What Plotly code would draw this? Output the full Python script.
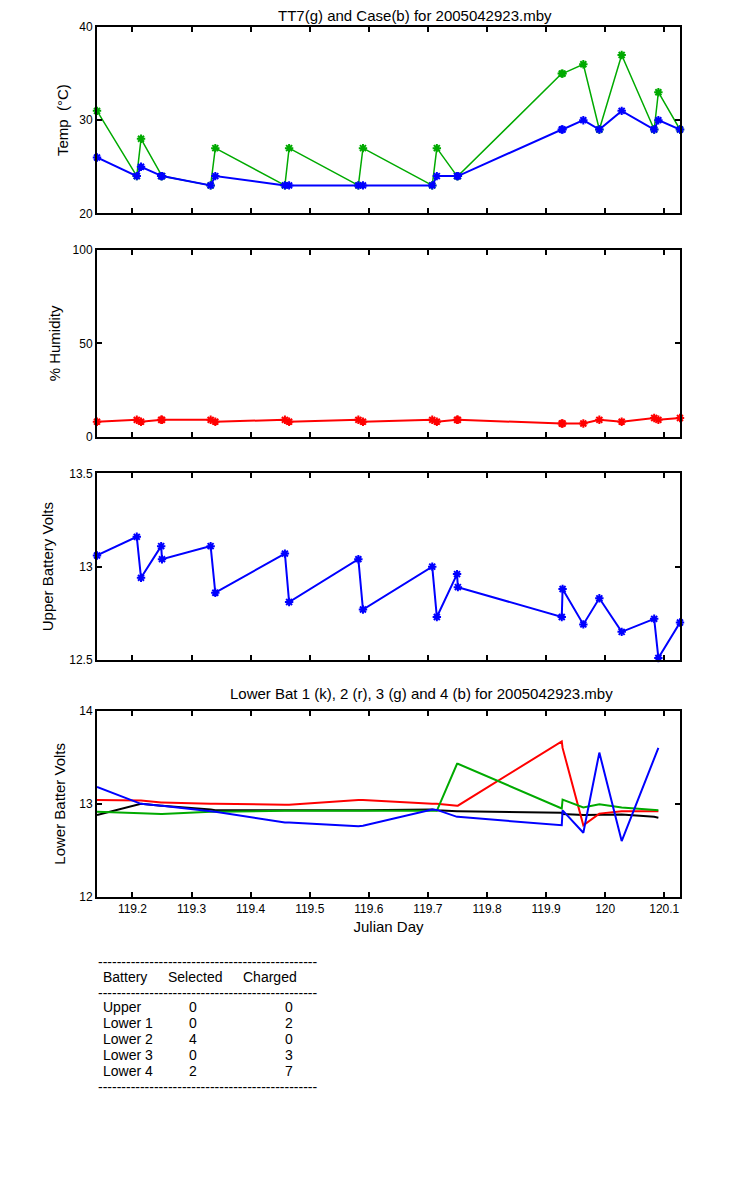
import plotly.graph_objects as go

# sample times (Julian day) shared by all panels
julian_day = [119.1400, 119.2073, 119.2145, 119.2486, 119.2500, 119.3323, 119.3402,
              119.4580, 119.4651, 119.5823, 119.5901, 119.7073, 119.7151, 119.7493,
              119.7507, 119.9265, 119.9279, 119.9630, 119.9901, 120.0279, 120.0829,
              120.0900, 120.1266]

# panel 1: temperatures (deg C)
tt7_temp = [31, 24, 28, 24, 24, 23, 27, 23, 27, 23, 27, 23, 27, 24, 24,
            35, 35, 36, 29, 37, 29, 33, 29]
case_temp = [26, 24, 25, 24, 24, 23, 24, 23, 23, 23, 23, 23, 24, 24, 24,
             29, 29, 30, 29, 31, 29, 30, 29]

# panel 2: humidity (%)
humidity = [8, 9, 8, 9, 9, 9, 8, 9, 8, 9, 8, 9, 8, 9, 9, 7, 7, 7, 9, 8, 10, 9, 10]

# panel 3: upper battery (V)
upper_volts = [13.06, 13.16, 12.94, 13.11, 13.04, 13.11, 12.86, 13.07, 12.81, 13.04,
               12.77, 13.00, 12.73, 12.96, 12.89, 12.73, 12.88, 12.69, 12.83, 12.65,
               12.72, 12.51, 12.70]

# panel 4: lower batteries (V), no sample at the last time
lower1 = [12.88, 12.99, 13.00, 12.98, 12.98, 12.94, 12.93, 12.93, 12.93, 12.93, 12.93,
          12.94, 12.93, 12.92, 12.92, 12.905, 12.89, 12.88, 12.885, 12.885, 12.86, 12.85]
lower2 = [13.04, 13.04, 13.035, 13.015, 13.015, 13.00, 13.00, 12.99, 12.99, 13.04, 13.04,
          13.00, 13.00, 12.98, 12.98, 13.67, 13.60, 12.77, 12.895, 12.92, 12.92, 12.92]
lower3 = [12.915, 12.905, 12.90, 12.89, 12.89, 12.915, 12.915, 12.925, 12.925, 12.925,
          12.925, 12.925, 12.925, 13.43, 13.43, 12.95, 13.045, 12.96, 12.995, 12.96,
          12.935, 12.93]
lower4 = [13.18, 13.01, 13.00, 12.98, 12.98, 12.92, 12.915, 12.80, 12.80, 12.76, 12.765,
          12.94, 12.935, 12.86, 12.86, 12.77, 12.93, 12.69, 13.55, 12.60, 13.47, 13.60]

# charge table
battery_names = ["Upper", "Lower 1", "Lower 2", "Lower 3", "Lower 4"]
selected = [0, 0, 4, 0, 2]
charged = [0, 2, 0, 3, 7]

x_ticks = [119.2, 119.3, 119.4, 119.5, 119.6, 119.7, 119.8, 119.9, 120.0, 120.1]
x_tick_labels = ["119.2", "119.3", "119.4", "119.5", "119.6", "119.7", "119.8",
                 "119.9", "120", "120.1"]

GREEN = "rgb(0,170,0)"
FONT = "Arial, Liberation Sans, sans-serif"

# the page body adds an 8px margin, so shift everything back by that much
OFF = 8
# plot area in screen pixels: x 97..680, y 24..897
L, R, T, B = 97, 680, 24, 897


def px_x(px):
    return (px - L) / float(R - L)


def px_y(py):
    return (B - py) / float(B - T)


n_low = len(lower1)
fig = go.Figure()

star = dict(symbol="asterisk-open", size=7)

fig.add_trace(go.Scatter(x=julian_day, y=tt7_temp, mode="lines+markers",
                         line=dict(color=GREEN, width=1.5),
                         marker=dict(star, line=dict(color=GREEN, width=2)),
                         cliponaxis=False, xaxis="x", yaxis="y"))
fig.add_trace(go.Scatter(x=julian_day, y=case_temp, mode="lines+markers",
                         line=dict(color="blue", width=2),
                         marker=dict(star, line=dict(color="blue", width=2)),
                         cliponaxis=False, xaxis="x", yaxis="y"))
fig.add_trace(go.Scatter(x=julian_day, y=humidity, mode="lines+markers",
                         line=dict(color="red", width=2),
                         marker=dict(star, line=dict(color="red", width=2)),
                         cliponaxis=False, xaxis="x2", yaxis="y2"))
fig.add_trace(go.Scatter(x=julian_day, y=upper_volts, mode="lines+markers",
                         line=dict(color="blue", width=2),
                         marker=dict(star, line=dict(color="blue", width=2)),
                         cliponaxis=False, xaxis="x3", yaxis="y3"))

for vals, col in [(lower1, "black"), (lower2, "red"), (lower3, GREEN), (lower4, "blue")]:
    fig.add_trace(go.Scatter(x=julian_day[:n_low], y=vals, mode="lines",
                             line=dict(color=col, width=2),
                             xaxis="x4", yaxis="y4"))

x_range = [min(julian_day), max(julian_day)]
box = dict(showline=True, linecolor="black", linewidth=2, mirror="ticks",
           ticks="inside", ticklen=5, tickwidth=2, tickcolor="black",
           showgrid=False, zeroline=False, tickfont=dict(size=12, color="black"))

panels = [  # (top px, bottom px, y range, y ticks, y tick labels, title, title standoff)
    (24, 211, [20, 40], [20, 30, 40], ["20", "30", "40"], "Temp\u00a0\u00a0(°C)", 7),
    (248, 435, [0, 100], [0, 50, 100], ["0", "50", "100"], "% Humidity", 8),
    (472, 659, [12.5, 13.5], [12.5, 13, 13.5], ["12.5", "13", "13.5"],
     "Upper Battery Volts", 12),
    (710, 897, [12, 14], [12, 13, 14], ["12", "13", "14"], "Lower Batter Volts", 10),
]

layout = dict(width=750, height=1200,
              margin=dict(l=L - OFF, r=750 - R + OFF, t=T - OFF, b=1200 - B + OFF),
              plot_bgcolor="white", paper_bgcolor="white", showlegend=False,
              font=dict(family=FONT, color="black"))

for i, (top, bot, yr, yt, ytl, ytitle, sto) in enumerate(panels):
    k = "" if i == 0 else str(i + 1)
    last = i == len(panels) - 1
    layout["xaxis" + k] = dict(box, range=x_range, anchor="y" + k, tickvals=x_ticks,
                               ticktext=x_tick_labels, showticklabels=last,
                               title=dict(text="Julian Day" if last else "",
                                          font=dict(size=15), standoff=6))
    layout["yaxis" + k] = dict(box, range=yr, anchor="x" + k,
                               domain=[px_y(bot), px_y(top)],
                               tickvals=yt, ticktext=ytl,
                               title=dict(text=ytitle, font=dict(size=15), standoff=sto))

fig.update_layout(**layout)

# panel titles
fig.add_annotation(text="TT7(g) and Case(b) for 2005042923.mby", x=px_x(415), y=px_y(12),
                   xref="paper", yref="paper", showarrow=False, font=dict(size=15),
                   xanchor="center", yanchor="middle", borderpad=0)
fig.add_annotation(text="Lower Bat 1 (k), 2 (r), 3 (g) and 4 (b) for 2005042923.mby",
                   x=px_x(422), y=px_y(693), xref="paper", yref="paper", showarrow=False,
                   font=dict(size=15), xanchor="center", yanchor="middle")

# charge table under the plots
rule = "-" * 47


def table_text(text, px, py, anchor="left"):
    fig.add_annotation(text=text, x=px_x(px), y=px_y(py), xref="paper", yref="paper",
                       showarrow=False, font=dict(size=14), xanchor=anchor,
                       yanchor="middle", borderpad=0)


table_text(rule, 97, 962)
table_text("Battery", 102, 977)
table_text("Selected", 167, 977)
table_text("Charged", 242, 977)
table_text(rule, 97, 993)
for i, name in enumerate(battery_names):
    row_y = 1007.5 + 16 * i
    table_text(name, 102, row_y)
    table_text(str(selected[i]), 193, row_y, "center")
    table_text(str(charged[i]), 289, row_y, "center")
table_text(rule, 97, 1088)

fig.write_html("out.html")
